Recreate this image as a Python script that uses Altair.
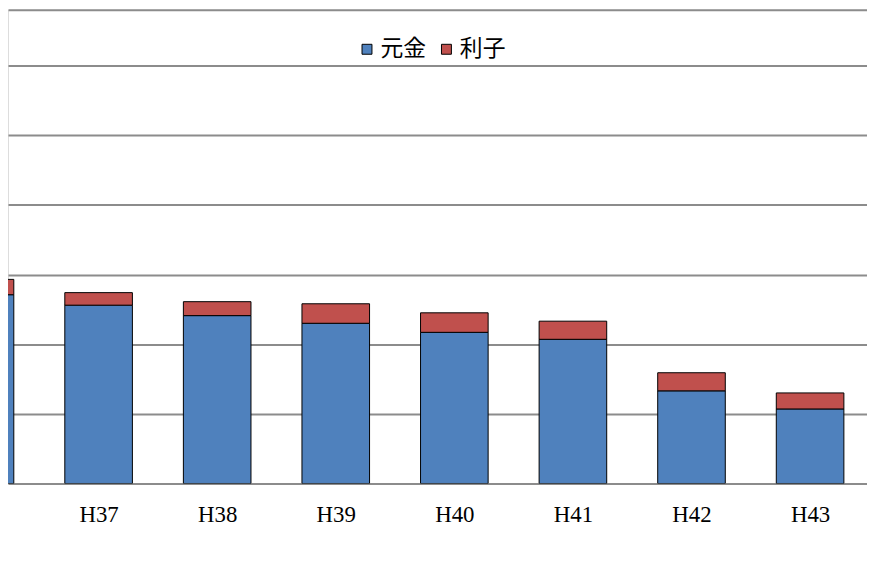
import altair as alt
import pandas as pd

categories = ["H36", "H37", "H38", "H39", "H40", "H41", "H42", "H43"]
principal = [271, 256, 241, 230, 217, 207, 133, 107]
interest = [22, 18, 20, 28, 28, 26, 26, 23]
series = ["元金", "利子"]
colors = ["#4F81BD", "#C0504D"]
grid_values = [0, 100, 200, 300, 400, 500, 600, 680]

rows = []
for i, (c, p, r) in enumerate(zip(categories, principal, interest)):
    rows.append({"cat": c, "idx": i, "series": series[0], "y0": 0, "y1": p})
    rows.append({"cat": c, "idx": i, "series": series[1], "y0": p, "y1": p + r})
df = pd.DataFrame(rows)

label_list = "[" + ",".join("'%s'" % c for c in categories) + "]"

half = 0.285
x_dom = [0.236, 7.48]

bars = alt.Chart(df).transform_calculate(
    xa=f"datum.idx - {half}", xb=f"datum.idx + {half}"
).mark_rect(stroke="black", strokeWidth=1, clip=True).encode(
    x=alt.X("xa:Q", scale=alt.Scale(domain=x_dom, nice=False, zero=False),
            axis=alt.Axis(values=list(range(1, len(categories))),
                          labelExpr=f"{label_list}[datum.value]",
                          title=None, domain=False, ticks=False, grid=False,
                          labelFont="Liberation Serif", labelFontSize=23,
                          labelColor="#000000", labelPadding=20)),
    x2="xb:Q",
    y=alt.Y("y0:Q", scale=alt.Scale(domain=[0, 680], nice=False),
            axis=alt.Axis(values=grid_values, grid=True, gridColor="#8C8C8C",
                          gridWidth=2, labels=False, ticks=False, domain=False,
                          title=None)),
    y2="y1:Q",
    color=alt.Color("series:N", scale=alt.Scale(domain=series, range=colors),
                    sort=series,
                    legend=alt.Legend(title=None, orient="none", direction="horizontal",
                                      legendX=350, legendY=28, symbolType="square",
                                      symbolSize=100, symbolStrokeColor="#000000",
                                      symbolStrokeWidth=1, labelFont="Noto Sans CJK JP",
                                      labelFontSize=23, labelColor="#000000",
                                      columnPadding=9, symbolOffset=0, labelOffset=2)),
)

chart = bars.properties(
    width=865, height=477,
    padding={"left": 0, "top": 0, "right": 0, "bottom": 0},
    autosize=alt.AutoSizeParams(type="pad"),
).configure_view(stroke=None).configure(background="white")

chart.save("out.html", embed_options={"renderer": "svg", "actions": False})
